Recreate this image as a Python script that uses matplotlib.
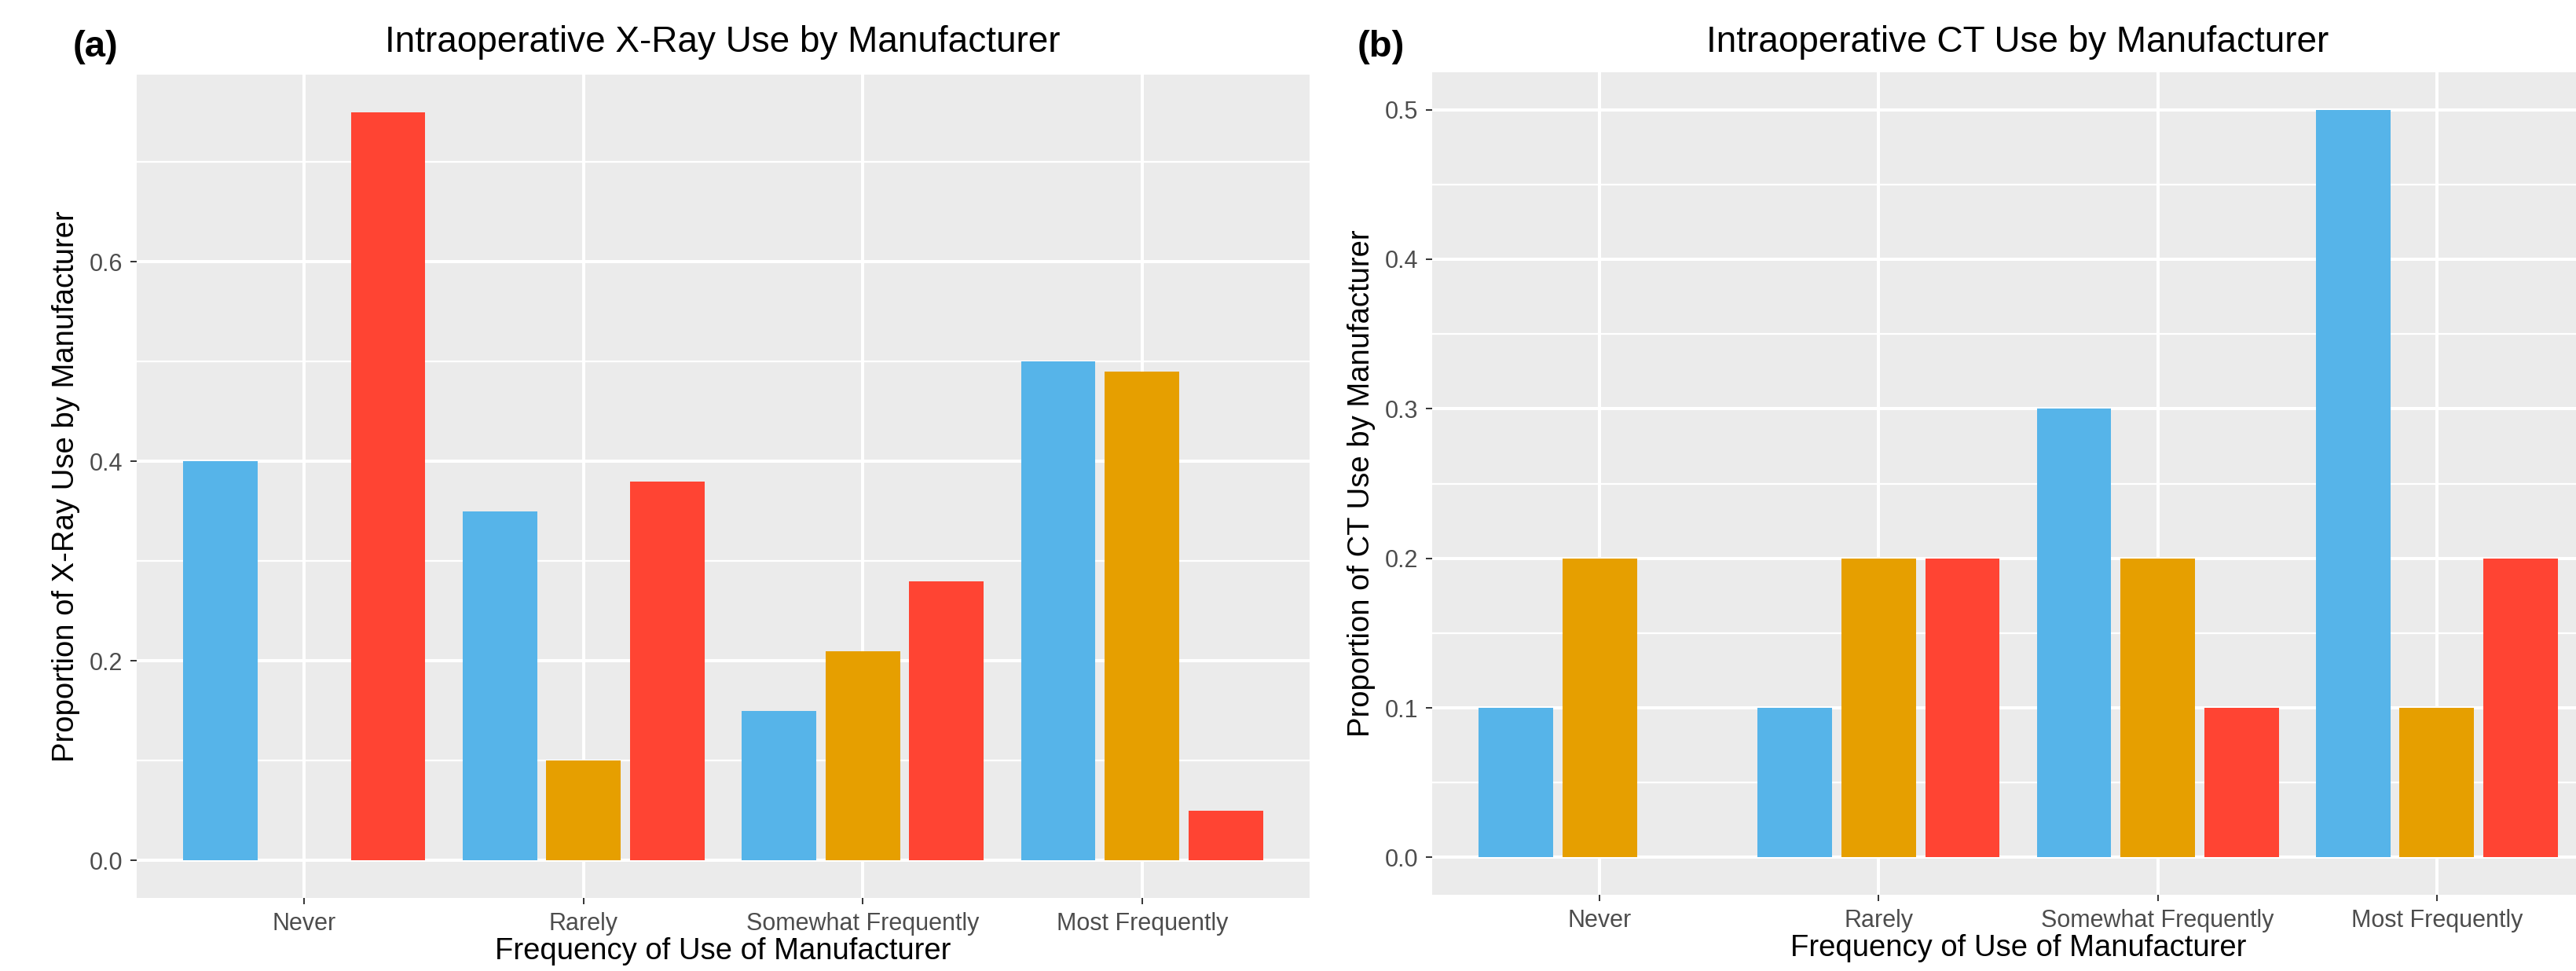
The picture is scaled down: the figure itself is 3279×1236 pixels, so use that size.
import numpy as np
import matplotlib
matplotlib.use("Agg")
import matplotlib.pyplot as plt
from matplotlib.ticker import FixedLocator

plt.rcParams['font.family'] = ['Liberation Sans', 'DejaVu Sans']

# data
categories = ["Never", "Rarely", "Somewhat Frequently", "Most Frequently"]
bar_colors = ["#56B4E9", "#E69F00", "#FF4433"]

xray_blue = [0.40, 0.35, 0.15, 0.50]
xray_orange = [0.0, 0.10, 0.21, 0.49]
xray_red = [0.75, 0.38, 0.28, 0.05]

ct_blue = [0.1, 0.1, 0.3, 0.5]
ct_orange = [0.2, 0.2, 0.2, 0.1]
ct_red = [0.0, 0.2, 0.1, 0.2]

xray_major = [0.0, 0.2, 0.4, 0.6]
xray_minor = [0.1, 0.3, 0.5, 0.7]
ct_major = [0.0, 0.1, 0.2, 0.3, 0.4, 0.5]
ct_minor = [0.05, 0.15, 0.25, 0.35, 0.45]

W, H = 3280, 1236
fig = plt.figure(figsize=(W / 100, H / 100), dpi=100)


def px(x0, y0, x1, y1):
    # pixel box -> figure fraction rect
    return [x0 / W, 1 - y1 / H, (x1 - x0) / W, (y1 - y0) / H]


def draw_panel(ax, series, major, minor, ylabel):
    ax.set_facecolor("#EBEBEB")
    x = np.arange(len(categories))
    for i, vals in enumerate(series):
        ax.bar(x + (i - 1) * 0.3, vals, width=0.8 / 3, color=bar_colors[i],
               linewidth=0, zorder=3)
    top = max(max(s) for s in series)
    ax.set_xlim(-0.6, len(categories) - 0.4)
    ax.set_ylim(-0.05 * top, 1.05 * top)
    ax.set_xticks(x)
    ax.set_xticklabels(categories)
    ax.set_yticks(major)
    ax.set_yticklabels([f"{v:.1f}" for v in major])
    ax.yaxis.set_minor_locator(FixedLocator(minor))
    ax.set_axisbelow(True)
    ax.grid(which="major", color="white", linewidth=2.9)
    ax.grid(which="minor", axis="y", color="white", linewidth=1.6)
    for s in ax.spines.values():
        s.set_visible(False)
    ax.tick_params(which="major", length=6, width=1.4, color="#333333",
                   labelsize=22, labelcolor="#4D4D4D", pad=7)
    ax.tick_params(which="minor", length=0)
    ax.text(-0.06, 0.5, ylabel, transform=ax.transAxes, rotation=90,
            ha="center", va="center", fontsize=27.5)
    ax.text(0.5, -0.065, "Frequency of Use of Manufacturer", transform=ax.transAxes,
            ha="center", va="center", fontsize=27.5)


ax1 = fig.add_axes(px(174, 95, 1667, 1143))
draw_panel(ax1, [xray_blue, xray_orange, xray_red], xray_major, xray_minor,
           "Proportion of X-Ray Use by Manufacturer")

ax2 = fig.add_axes(px(1823, 92, 3315, 1139))
draw_panel(ax2, [ct_blue, ct_orange, ct_red], ct_major, ct_minor,
           "Proportion of CT Use by Manufacturer")

fig.text(920 / W, 1 - 54 / H, "Intraoperative X-Ray Use by Manufacturer",
         ha="center", va="center", fontsize=33)
fig.text(2568 / W, 1 - 54 / H, "Intraoperative CT Use by Manufacturer",
         ha="center", va="center", fontsize=33)
fig.text(122 / W, 1 - 60 / H, "(a)", ha="center", va="center",
         fontsize=34, fontweight="bold")
fig.text(1758 / W, 1 - 60 / H, "(b)", ha="center", va="center",
         fontsize=34, fontweight="bold")

fig.savefig("out.png", dpi=100)
